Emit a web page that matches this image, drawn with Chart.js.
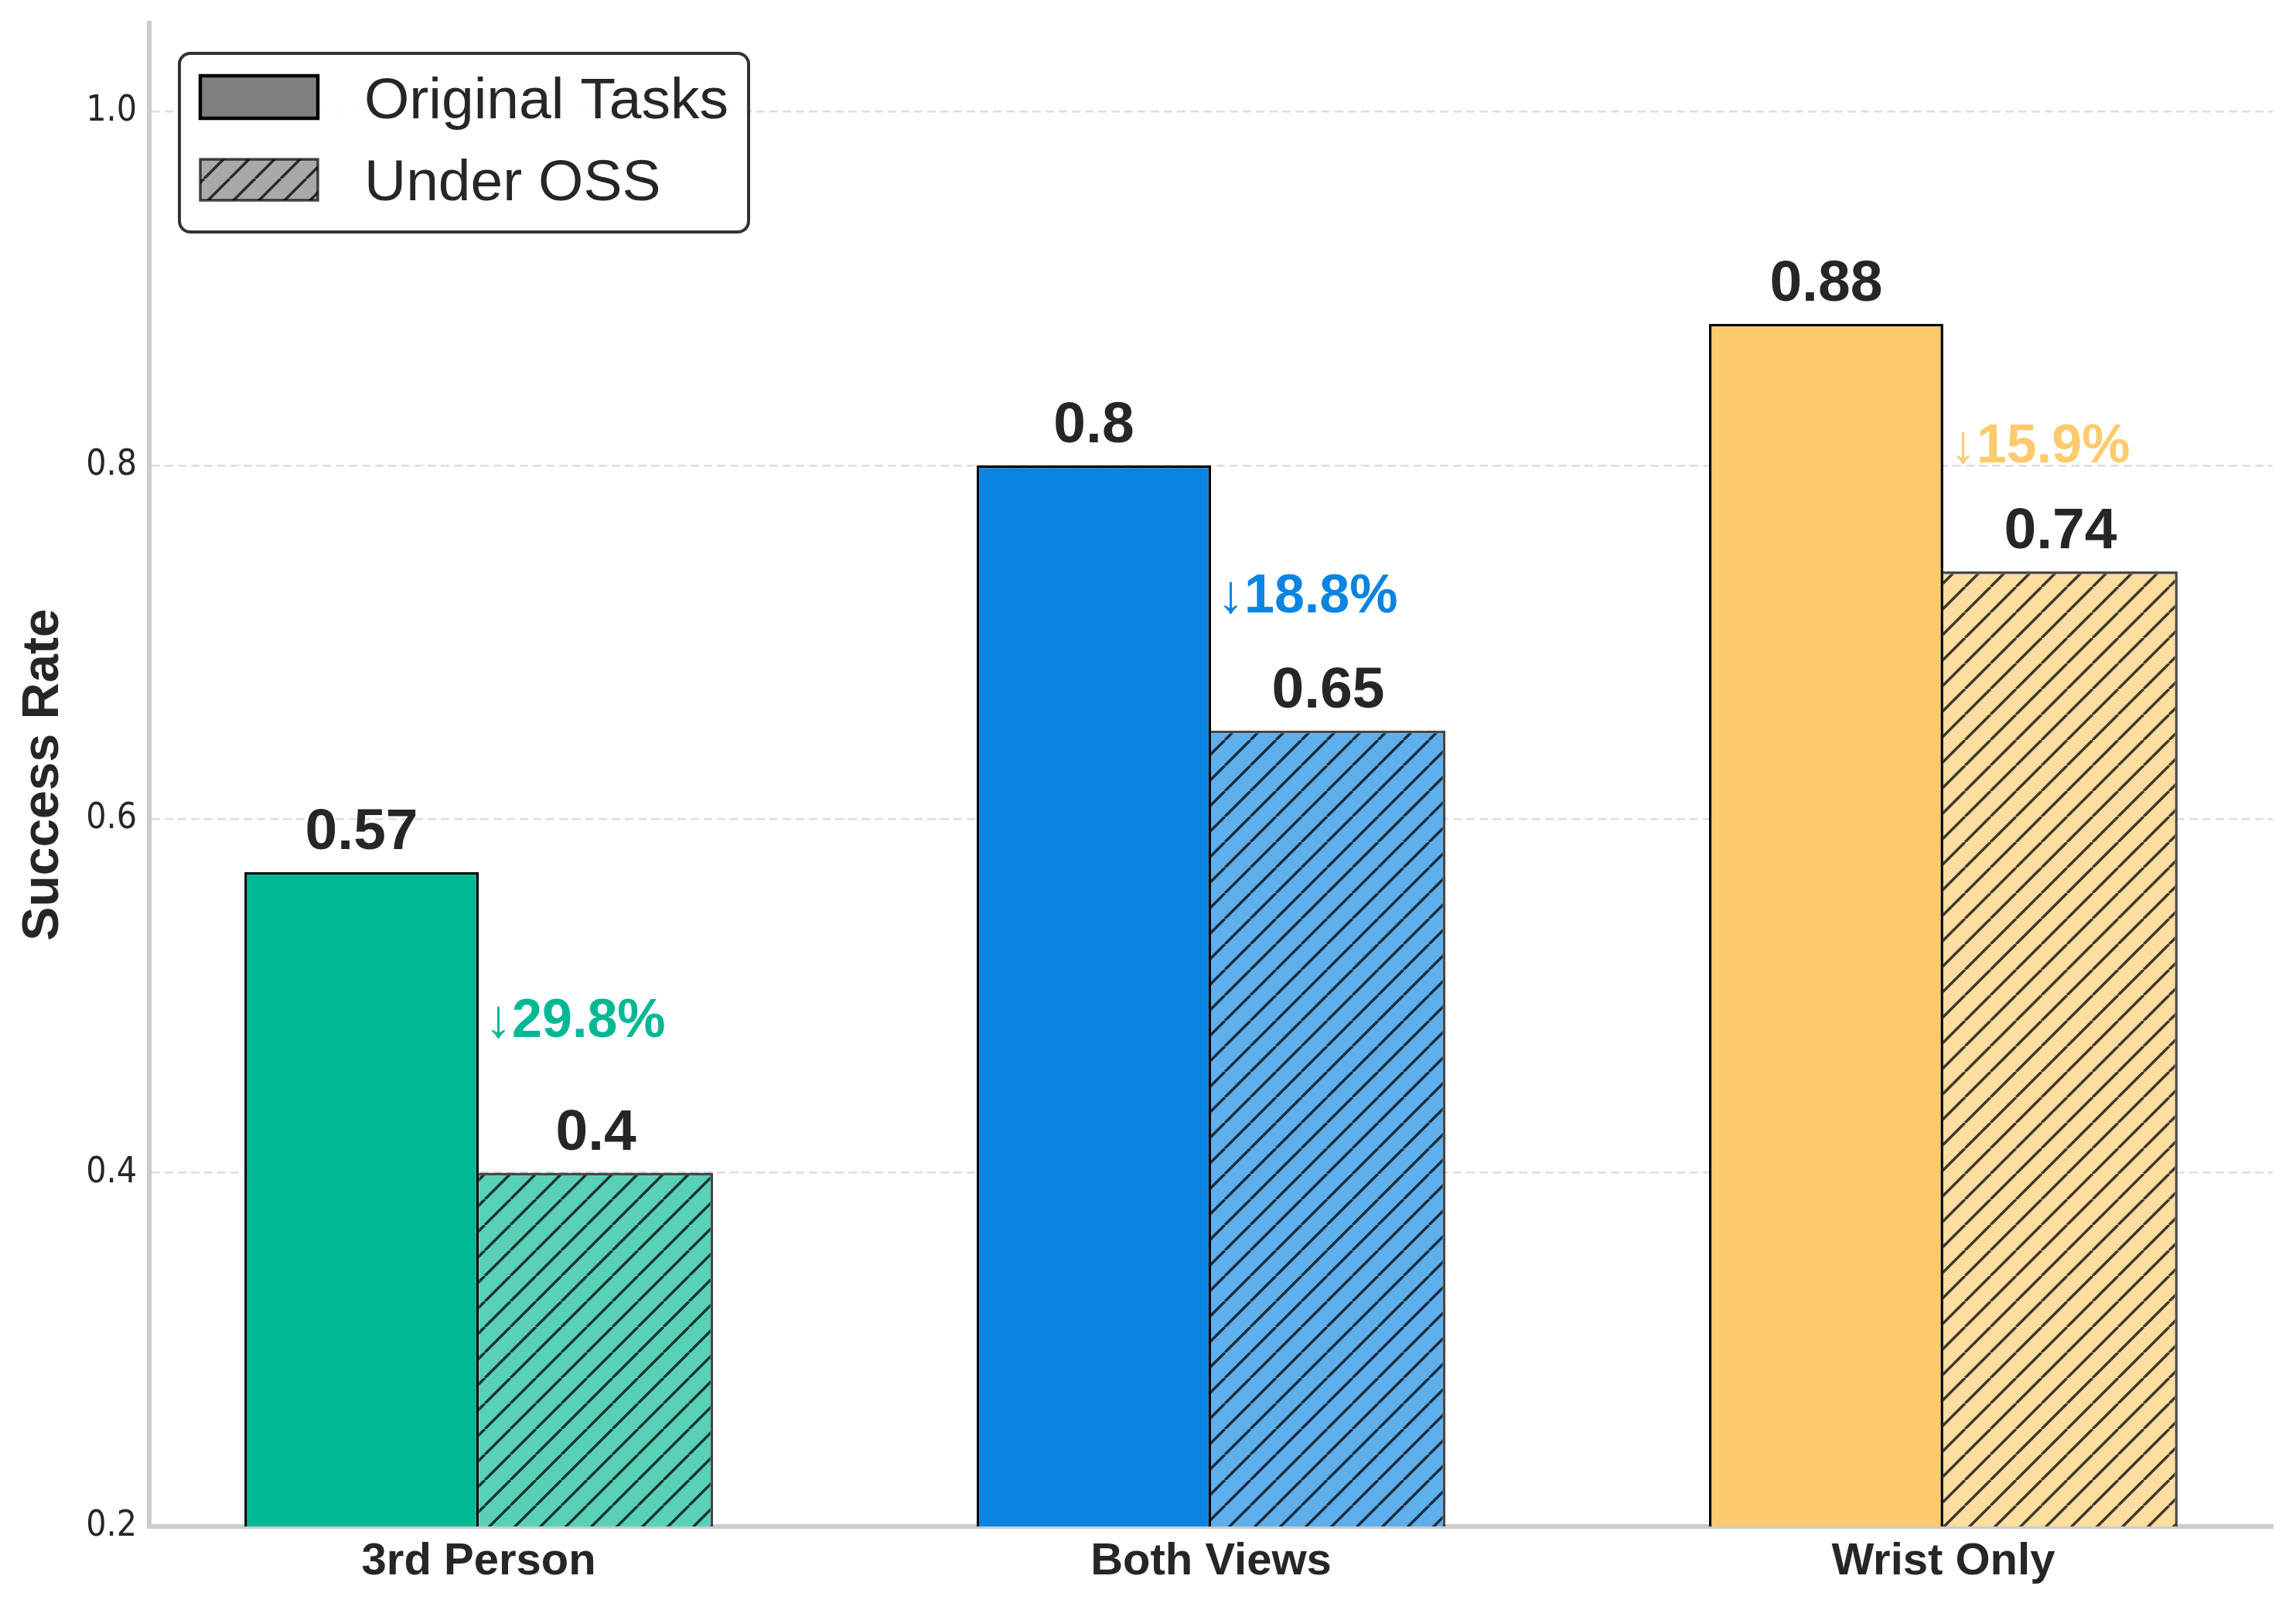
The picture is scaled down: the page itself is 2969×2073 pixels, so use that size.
<!DOCTYPE html>
<html><head><meta charset="utf-8">
<script src="https://cdn.jsdelivr.net/npm/chart.js@4.4.1/dist/chart.umd.min.js"></script>
<style>html,body{margin:0;padding:0;background:#fff;} #c{display:block;}</style>
</head><body>
<canvas id="c" width="2969" height="2073"></canvas>
<script>
const categories = ['3rd Person', 'Both Views', 'Wrist Only'];
const originalValues = [0.57, 0.80, 0.88];
const ossValues = [0.40, 0.65, 0.74];
const dropLabels = ['↓29.8%', '↓18.8%', '↓15.9%'];
const yTicks = [0.2, 0.4, 0.6, 0.8, 1.0];
const seriesNames = ['Original Tasks', 'Under OSS'];
const baseColors = ['#00B894', '#0984E3', '#FDCB6E'];
const lightColors = ['#59D1B9', '#5FAFEC', '#FDDDA0'];

function hatch(fill) {
  const s = 33;
  const c = document.createElement('canvas');
  c.width = s; c.height = s;
  const g = c.getContext('2d');
  g.fillStyle = fill; g.fillRect(0, 0, s, s);
  g.strokeStyle = 'rgba(0,0,0,0.75)'; g.lineWidth = 3.5;
  g.beginPath();
  for (const o of [-s, 0, s]) { g.moveTo(o, s); g.lineTo(o + s, 0); }
  g.stroke();
  return g.createPattern(c, 'repeat');
}

const annot = {
  id: 'annot',
  afterDatasetsDraw(chart) {
    const ctx = chart.ctx;
    const m0 = chart.getDatasetMeta(0), m1 = chart.getDatasetMeta(1);
    const ys = chart.scales.y;
    ctx.save();
    ctx.fillStyle = '#262626';
    ctx.font = 'bold 75px "Liberation Sans"';
    ctx.textAlign = 'center';
    ctx.textBaseline = 'alphabetic';
    [m0, m1].forEach((m, di) => {
      const vals = di ? ossValues : originalValues;
      m.data.forEach((b, i) => ctx.fillText(String(vals[i]), b.x, b.y - 30));
    });
    ctx.font = 'bold 70px "Liberation Sans"';
    ctx.textAlign = 'left';
    m0.data.forEach((b, i) => {
      const mid = (originalValues[i] + ossValues[i]) / 2;
      const y = ys.getPixelForValue(mid);
      ctx.fillStyle = baseColors[i];
      ctx.fillText(dropLabels[i], b.x + b.width / 2 + 8, y + 19);
    });
    ctx.restore();
  },
  afterDraw(chart) {
    const ctx = chart.ctx;
    ctx.save();
    ctx.lineWidth = 4; ctx.strokeStyle = '#333333'; ctx.fillStyle = 'rgba(255,255,255,0.9)';
    ctx.beginPath(); ctx.roundRect(232, 69, 736, 231, 14); ctx.fill(); ctx.stroke();
    ctx.fillStyle = '#808080'; ctx.fillRect(259, 98, 152, 55);
    ctx.strokeStyle = '#000'; ctx.lineWidth = 4.5; ctx.strokeRect(259, 98, 152, 55);
    ctx.fillStyle = hatch('#a9a9a9'); ctx.fillRect(259, 206, 152, 53);
    ctx.strokeStyle = 'rgba(0,0,0,0.7)'; ctx.lineWidth = 3.5; ctx.strokeRect(259, 206, 152, 53);
    ctx.fillStyle = '#262626'; ctx.font = '75px "Liberation Sans"';
    ctx.textAlign = 'left'; ctx.textBaseline = 'alphabetic';
    ctx.fillText(seriesNames[0], 471, 153);
    ctx.fillText(seriesNames[1], 471, 259);
    ctx.restore();
  }
};

new Chart(document.getElementById('c'), {
  type: 'bar',
  data: {
    datasets: [
      { label: seriesNames[0], data: originalValues.map((v, i) => ({ x: i, y: v })),
        backgroundColor: baseColors, borderColor: '#000000', borderWidth: 3.5,
        categoryPercentage: 0.64, barPercentage: 1.0 },
      { label: seriesNames[1], data: ossValues.map((v, i) => ({ x: i, y: v })),
        backgroundColor: lightColors.map(hatch), borderColor: 'rgba(0,0,0,0.72)',
        borderWidth: { top: 3.5, right: 3.5, left: 0, bottom: 0 },
        categoryPercentage: 0.64, barPercentage: 1.0 }
    ]
  },
  options: {
    responsive: false, animation: false, devicePixelRatio: 1,
    layout: { padding: { top: 30, right: 30, left: 0, bottom: 0 } },
    plugins: { legend: { display: false }, tooltip: { enabled: false } },
    scales: {
      x: {
        type: 'linear', min: -0.45, max: 2.45, offset: false,
        afterBuildTicks: s => { s.ticks = categories.map((_, i) => ({ value: i })); },
        afterFit: s => { s.height = 99; s.paddingLeft = 0; s.paddingRight = 0; s.paddingTop = 0; s.paddingBottom = 0; },
        grid: { display: false, drawTicks: false },
        border: { display: true, color: '#cccccc', width: 6 },
        ticks: { callback: v => categories[v], font: { family: 'Liberation Sans', weight: 'bold', size: 58 },
                 color: '#262626', padding: 11, autoSkip: false, maxRotation: 0 }
      },
      y: {
        min: 0.2, max: 1.05, beginAtZero: false,
        afterBuildTicks: s => { s.ticks = yTicks.map(v => ({ value: v })); },
        afterFit: s => { s.width = 193; s.paddingTop = 0; s.paddingBottom = 0; s.paddingLeft = 0; s.paddingRight = 0; },
        grid: { color: '#dddddd', lineWidth: 2.5, drawTicks: false },
        border: { display: true, color: '#cccccc', width: 6, dash: [11, 6] },
        ticks: { callback: v => v.toFixed(1), font: { family: '"DejaVu Sans Condensed", "DejaVu Sans"', size: 46 }, color: '#262626', padding: 16 },
        title: { display: true, text: 'Success Rate', font: { family: 'Liberation Sans', weight: 'bold', size: 66 },
                 color: '#262626', padding: { top: 17, bottom: 0 } }
      }
    }
  },
  plugins: [annot]
});
</script>
</body></html>
